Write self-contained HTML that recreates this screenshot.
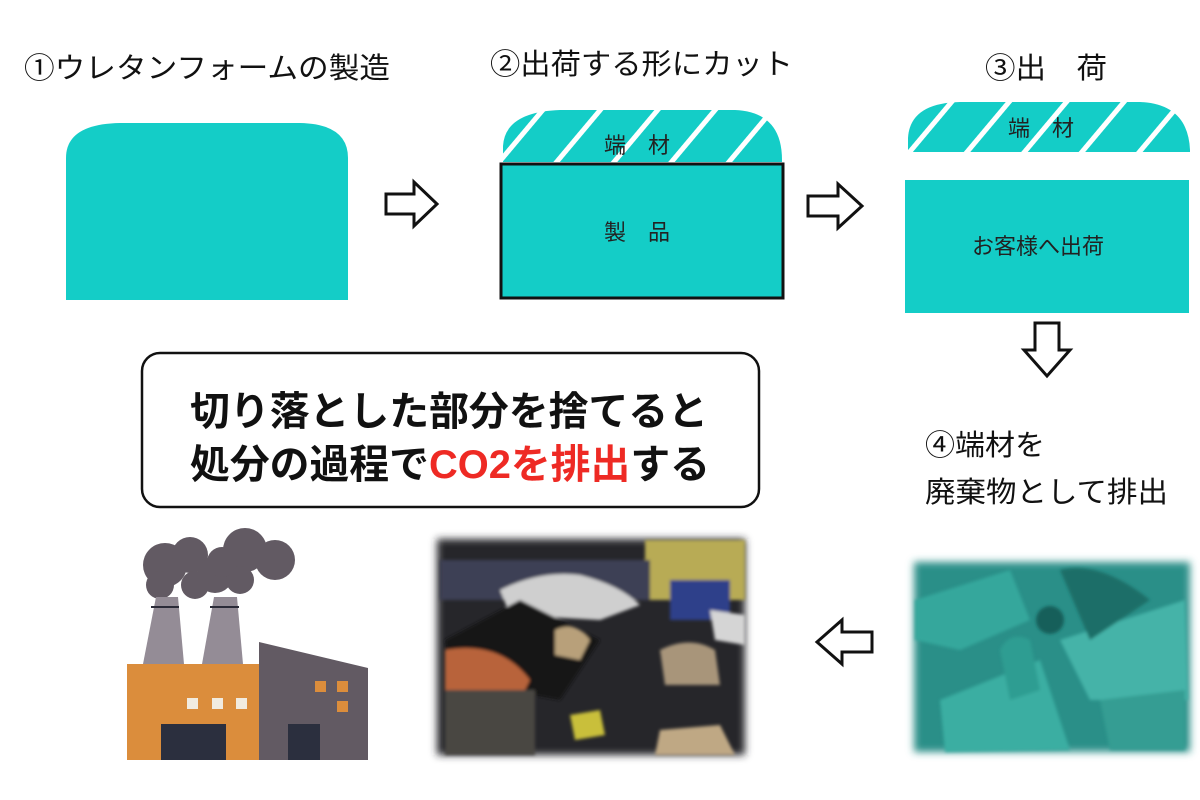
<!DOCTYPE html>
<html><head><meta charset="utf-8"><style>
html,body{margin:0;padding:0;background:#fff;}
svg{display:block}
text{font-family:"Liberation Sans","Noto Sans CJK JP",sans-serif;}
</style></head><body>
<svg width="1200" height="800" viewBox="0 0 1200 800" xmlns="http://www.w3.org/2000/svg">
<defs>
<pattern id="hatch" patternUnits="userSpaceOnUse" width="44" height="44" patternTransform="rotate(40)">
<rect width="44" height="44" fill="#14cdc7"/><rect x="0" y="0" width="5" height="44" fill="#fff"/>
</pattern>
<filter id="bl" x="-10%" y="-10%" width="120%" height="120%"><feGaussianBlur stdDeviation="4"/></filter>
<filter id="bl2"><feGaussianBlur stdDeviation="1.5"/></filter>
</defs>

<!-- titles -->
<text x="24" y="78" font-size="29" fill="#111" textLength="366" lengthAdjust="spacingAndGlyphs">①ウレタンフォームの製造</text>
<text x="490" y="74" font-size="29" fill="#111" textLength="303" lengthAdjust="spacingAndGlyphs">②出荷する形にカット</text>
<text x="985" y="78" font-size="29" fill="#111" textLength="122" lengthAdjust="spacingAndGlyphs">③出　荷</text>

<!-- block 1 -->
<path d="M66 300 V158 Q66 124 120 123 H300 Q348 124 348 158 V300 Z" fill="#14cdc7"/>

<!-- arrow 1 -->
<path d="M386 194 H414 V182 L437 204 L414 226 V214 H386 Z" fill="#fff" stroke="#111" stroke-width="3"/>

<!-- block 2 -->
<path d="M503 162 V146 Q505 112 560 110 H735 Q782 112 782 160 V162 Z" fill="url(#hatch)"/>
<text x="604" y="153" font-size="22" fill="#222">端　材</text>
<rect x="501" y="164" width="282" height="134" fill="#14cdc7" stroke="#111" stroke-width="3"/>
<text x="604" y="240" font-size="22" fill="#222">製　品</text>

<!-- arrow 2 -->
<path d="M808 196 H838 V184 L862 206 L838 228 V216 H808 Z" fill="#fff" stroke="#111" stroke-width="3"/>

<!-- block 3 -->
<path d="M908 152 V138 Q910 103 960 102 H1140 Q1188 104 1190 150 V152 Z" fill="url(#hatch)"/>
<text x="1008" y="136" font-size="22" fill="#222">端　材</text>
<rect x="905" y="180" width="284" height="133" fill="#14cdc7"/>
<text x="972" y="254" font-size="22" fill="#222">お客様へ出荷</text>

<!-- down arrow -->
<path d="M1035 323 V350 H1024 L1047 376 L1070 350 H1059 V323 Z" fill="#fff" stroke="#111" stroke-width="3"/>

<text x="925" y="455" font-size="29" fill="#111" textLength="120" lengthAdjust="spacingAndGlyphs">④端材を</text>
<text x="925" y="502" font-size="29" fill="#111" textLength="243" lengthAdjust="spacingAndGlyphs">廃棄物として排出</text>

<!-- message box -->
<rect x="142" y="353" width="617" height="154" rx="18" fill="#fff" stroke="#111" stroke-width="2.5"/>
<text x="190" y="425" font-size="40" font-weight="bold" fill="#111" textLength="518" lengthAdjust="spacingAndGlyphs">切り落とした部分を捨てると</text>
<text x="190" y="478" font-size="40" font-weight="bold" fill="#111" textLength="520" lengthAdjust="spacingAndGlyphs">処分の過程で<tspan fill="#ee2a24">CO2を排出</tspan>する</text>

<!-- left arrow -->
<path d="M872 632 H842 V620 L817 642 L842 664 V652 H872 Z" fill="#fff" stroke="#111" stroke-width="3"/>

<!-- foam photo -->
<g>
<rect x="914" y="562" width="276" height="190" fill="#2a8f88" filter="url(#bl)"/>
<g filter="url(#bl2)">
<path d="M915 600 L1010 570 L1030 620 L960 650 L915 640 Z" fill="#36a79c"/>
<path d="M940 700 L1040 660 L1070 750 L945 752 Z" fill="#3aaea2"/>
<path d="M1060 640 L1185 600 L1188 700 L1090 700 Z" fill="#45b3a8"/>
<path d="M1000 650 Q1010 630 1030 640 L1040 690 L1010 700 Z" fill="#2e9d92"/>
<path d="M1060 570 Q1100 560 1150 600 L1090 640 Z" fill="#1d6e68"/>
<path d="M1100 700 L1185 690 L1185 750 L1110 750 Z" fill="#349d93"/>
<circle cx="1050" cy="620" r="14" fill="#175f5a"/>
</g>
</g>

<!-- trash photo -->
<g>
<rect x="437" y="539" width="308" height="216" fill="#26262b" filter="url(#bl)"/>
<g filter="url(#bl2)">
<rect x="645" y="540" width="100" height="60" fill="#b8ab55"/>
<rect x="670" y="580" width="60" height="40" fill="#2d3f8a"/>
<path d="M440 560 H650 V600 H440 Z" fill="#3c3f55"/>
<path d="M500 590 Q540 570 580 575 Q620 585 640 605 L600 620 L510 615 Z" fill="#cfcfcf"/>
<path d="M445 640 L520 600 L600 640 L560 700 L450 680 Z" fill="#151518"/>
<path d="M445 650 Q500 640 530 680 L520 700 L445 690 Z" fill="#b8643a"/>
<rect x="445" y="690" width="90" height="65" fill="#4a4642"/>
<path d="M555 630 Q575 620 590 640 L580 660 L555 655 Z" fill="#b8a07a"/>
<path d="M660 650 Q690 635 715 650 L720 685 L665 685 Z" fill="#a8957a"/>
<path d="M660 730 L720 725 L735 755 L655 755 Z" fill="#bfa884"/>
<path d="M570 715 L600 710 L605 735 L575 740 Z" fill="#c9bf3a"/>
<path d="M710 610 L745 615 L745 645 L715 640 Z" fill="#d5d5d5"/>
</g>
</g>

<!-- factory -->
<g>
<g fill="#625a63">
<circle cx="165" cy="565" r="22"/><circle cx="190" cy="555" r="18"/><circle cx="215" cy="575" r="18"/>
<circle cx="245" cy="550" r="22"/><circle cx="275" cy="560" r="20"/><circle cx="240" cy="580" r="14"/>
<circle cx="160" cy="585" r="14"/><circle cx="195" cy="585" r="14"/><circle cx="222" cy="562" r="15"/>
</g>
<path d="M156 597 H178 L184 664 H143 Z" fill="#948c96"/>
<rect x="151" y="606" width="28" height="2" fill="#2b2b38"/>
<path d="M214 597 H237 L243 664 H202 Z" fill="#948c96"/>
<rect x="210" y="606" width="29" height="2" fill="#2b2b38"/>
<rect x="127" y="664" width="133" height="96" fill="#db8d3c"/>
<path d="M259 642 L368 668 V760 H259 Z" fill="#625a63"/>
<rect x="187" y="698" width="11" height="11" fill="#f1ebdf"/>
<rect x="212" y="698" width="11" height="11" fill="#f1ebdf"/>
<rect x="236" y="698" width="11" height="11" fill="#f1ebdf"/>
<rect x="161" y="724" width="65" height="36" fill="#2b2f3e"/>
<rect x="288" y="724" width="32" height="36" fill="#2b2f3e"/>
<rect x="315" y="681" width="11" height="11" fill="#db8d3c"/>
<rect x="337" y="681" width="11" height="11" fill="#db8d3c"/>
<rect x="337" y="701" width="11" height="11" fill="#db8d3c"/>
</g>
</svg>
</body></html>
